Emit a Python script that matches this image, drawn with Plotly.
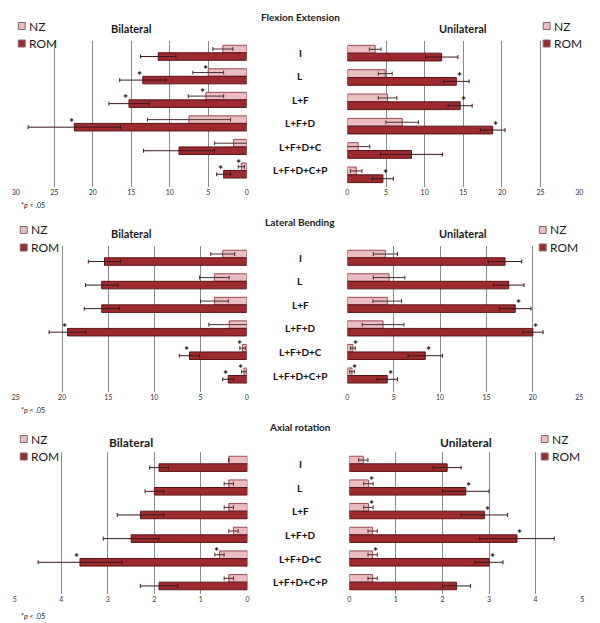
import plotly.graph_objects as go

categories = ["I", "L", "L+F", "L+F+D", "L+F+D+C", "L+F+D+C+P"]
series_names = ["NZ", "ROM"]

# Flexion Extension
fe_bi_nz = [3.1, 5.0, 5.3, 7.5, 1.7, 0.7]
fe_bi_nz_err = [1.3, 2.0, 2.3, 5.4, 2.5, 0.4]
fe_bi_rom = [11.5, 13.5, 15.3, 22.4, 8.8, 3.0]
fe_bi_rom_err = [2.3, 3.0, 2.6, 6.0, 4.6, 0.9]
fe_bi_nz_sig = [0, 1, 1, 0, 0, 1]
fe_bi_rom_sig = [0, 1, 1, 1, 0, 1]

fe_uni_nz = [3.6, 4.9, 5.2, 7.1, 1.4, 1.15]
fe_uni_nz_err = [0.75, 0.9, 1.2, 2.1, 1.5, 0.75]
fe_uni_rom = [12.2, 14.1, 14.6, 18.8, 8.3, 4.6]
fe_uni_rom_err = [2.1, 1.65, 1.55, 1.6, 4.0, 1.35]
fe_uni_nz_sig = [0, 0, 0, 0, 0, 0]
fe_uni_rom_sig = [0, 1, 1, 1, 0, 1]

# Lateral Bending
lb_bi_nz = [2.6, 3.5, 3.5, 1.9, 0.45, 0.3]
lb_bi_nz_err = [1.3, 1.6, 1.5, 2.2, 0.3, 0.25]
lb_bi_rom = [15.4, 15.7, 15.7, 19.4, 6.2, 2.0]
lb_bi_rom_err = [1.75, 1.75, 1.9, 2.0, 1.1, 0.6]
lb_bi_nz_sig = [0, 0, 0, 0, 1, 1]
lb_bi_rom_sig = [0, 0, 0, 1, 1, 1]

lb_uni_nz = [4.1, 4.5, 4.3, 3.85, 0.6, 0.5]
lb_uni_nz_err = [1.3, 1.7, 1.55, 2.25, 0.25, 0.25]
lb_uni_rom = [17.0, 17.4, 18.1, 20.0, 8.4, 4.3]
lb_uni_rom_err = [1.8, 1.65, 1.7, 1.1, 1.85, 1.1]
lb_uni_nz_sig = [0, 0, 0, 0, 1, 1]
lb_uni_rom_sig = [0, 0, 1, 1, 1, 1]

# Axial rotation
ar_bi_nz = [0.4, 0.4, 0.4, 0.3, 0.6, 0.4]
ar_bi_nz_err = [0.0, 0.1, 0.1, 0.1, 0.1, 0.1]
ar_bi_rom = [1.9, 2.0, 2.3, 2.5, 3.6, 1.9]
ar_bi_rom_err = [0.2, 0.2, 0.5, 0.6, 0.9, 0.4]
ar_bi_nz_sig = [0, 0, 0, 0, 1, 0]
ar_bi_rom_sig = [0, 0, 0, 0, 1, 0]

ar_uni_nz = [0.3, 0.41, 0.41, 0.5, 0.5, 0.5]
ar_uni_nz_err = [0.1, 0.1, 0.1, 0.1, 0.1, 0.1]
ar_uni_rom = [2.1, 2.5, 2.9, 3.6, 3.0, 2.3]
ar_uni_rom_err = [0.3, 0.5, 0.5, 0.8, 0.3, 0.3]
ar_uni_nz_sig = [0, 1, 1, 0, 1, 0]
ar_uni_rom_sig = [0, 1, 1, 1, 1, 0]

NZ_FILL = "#ebbcc0"
NZ_LINE = "#9a4a50"
ROM_FILL = "#9c2a2f"
ROM_LINE = "#5a1418"
FONT = "Lato"

W, H = 600, 623

def py(px):  # pixel row -> paper y
    return 1 - px / H

# layout of each of the three panels (pixel positions); lb/lu = legend swatch centre (x, y of first row)
panels = [
    dict(title="Flexion Extension", ty=17, sy=29, ssize=11, top=41, bot=187, xmax=30, dtick=5, pnote=205,
         lb=(18, 26), lu=(550, 26),
         bi=(fe_bi_nz, fe_bi_nz_err, fe_bi_rom, fe_bi_rom_err, fe_bi_nz_sig, fe_bi_rom_sig),
         uni=(fe_uni_nz, fe_uni_nz_err, fe_uni_rom, fe_uni_rom_err, fe_uni_nz_sig, fe_uni_rom_sig),
         bdom=[12 / W, 246 / W], udom=[348 / W, 583 / W]),
    dict(title="Lateral Bending", ty=222, sy=233, ssize=11, top=246, bot=392, xmax=25, dtick=5, pnote=410,
         lb=(20, 230), lu=(546, 230),
         bi=(lb_bi_nz, lb_bi_nz_err, lb_bi_rom, lb_bi_rom_err, lb_bi_nz_sig, lb_bi_rom_sig),
         uni=(lb_uni_nz, lb_uni_nz_err, lb_uni_rom, lb_uni_rom_err, lb_uni_nz_sig, lb_uni_rom_sig),
         bdom=[12 / W, 246 / W], udom=[348 / W, 583 / W]),
    dict(title="Axial rotation", ty=427, sy=442, ssize=12, top=452, bot=594, xmax=5, dtick=1, pnote=616,
         lb=(20, 439), lu=(548, 439),
         bi=(ar_bi_nz, ar_bi_nz_err, ar_bi_rom, ar_bi_rom_err, ar_bi_nz_sig, ar_bi_rom_sig),
         uni=(ar_uni_nz, ar_uni_nz_err, ar_uni_rom, ar_uni_rom_err, ar_uni_nz_sig, ar_uni_rom_sig),
         bdom=[11 / W, 246.7 / W], udom=[350 / W, 586 / W]),
]

fig = go.Figure()
layout = {}
annotations = []
shapes = []

def label(x, y, text, size, xanchor="center", **kw):
    # paper annotation with explicit anchors (auto anchors shift with position)
    d = dict(x=x, y=y, xref="paper", yref="paper", text=text, showarrow=False,
             xanchor=xanchor, yanchor="middle", font=dict(family=FONT, size=size, color="#1a1a1a"))
    d.update(kw)
    annotations.append(d)

idx = 0
for p in panels:
    for side, data, dom, lpos in (("Bilateral", p["bi"], p["bdom"], p["lb"]),
                                  ("Unilateral", p["uni"], p["udom"], p["lu"])):
        idx += 1
        sfx = "" if idx == 1 else str(idx)
        xa, ya = "x" + sfx, "y" + sfx
        nz, nz_err, rom, rom_err, nz_sig, rom_sig = data

        fig.add_trace(go.Bar(
            y=categories, x=nz, orientation="h", name="NZ", xaxis=xa, yaxis=ya, showlegend=False,
            marker=dict(color=NZ_FILL, line=dict(color=NZ_LINE, width=1)),
            error_x=dict(type="data", array=nz_err, color="#4a3030", thickness=1, width=2),
        ))
        fig.add_trace(go.Bar(
            y=categories, x=rom, orientation="h", name="ROM", xaxis=xa, yaxis=ya, showlegend=False,
            marker=dict(color=ROM_FILL, line=dict(color=ROM_LINE, width=1)),
            error_x=dict(type="data", array=rom_err, color="#3a1a1a", thickness=1, width=2),
        ))

        rng = [p["xmax"], 0] if side == "Bilateral" else [0, p["xmax"]]
        layout["xaxis" + sfx] = dict(
            domain=dom, anchor=ya, range=rng, dtick=p["dtick"], tick0=0,
            showgrid=True, gridcolor="#8a8a8a", gridwidth=1,
            zeroline=True, zerolinecolor="rgba(0,0,0,0)",
            showline=False, ticks="", fixedrange=True,
            tickfont=dict(family=FONT, size=7, color="#333333"),
        )
        layout["yaxis" + sfx] = dict(
            domain=[py(p["bot"]), py(p["top"])], anchor=xa, fixedrange=True,
            categoryorder="array", categoryarray=categories, autorange="reversed",
            showticklabels=False, showgrid=False, zeroline=False, showline=False, ticks="",
        )

        # small legend (swatch + label) for this subplot
        lx, ly = lpos
        for k, (nm, fill) in enumerate(zip(series_names, (NZ_FILL, ROM_FILL))):
            cy = ly + k * 17.5
            shapes.append(dict(type="rect", xref="paper", yref="paper",
                               x0=(lx - 3.5) / W, x1=(lx + 3.5) / W, y0=py(cy + 3.5), y1=py(cy - 3.5),
                               fillcolor=fill, line=dict(color="#7a6a6a", width=1)))
            label((lx + 5) / W, py(cy), nm, 12, xanchor="left")

        # subtitle
        label((dom[0] + dom[1]) / 2, py(p["sy"]), "<b>%s</b>" % side, p["ssize"])

        # significance stars
        sgn = -1 if side == "Bilateral" else 1
        for vals, sig, dy in ((nz, nz_sig, 7), (rom, rom_sig, 1)):
            for cat, v, s in zip(categories, vals, sig):
                if s:
                    annotations.append(dict(x=v, y=cat, xref=xa, yref=ya, text="<b>*</b>", showarrow=False,
                                            xanchor="center", yanchor="middle", xshift=sgn * 3, yshift=dy,
                                            font=dict(family=FONT, size=12, color="#111111")))

        if side == "Bilateral":
            # category labels in the middle
            for cat in categories:
                annotations.append(dict(x=0.5, y=cat, xref="paper", yref=ya, text="<b>%s</b>" % cat,
                                        showarrow=False, xanchor="center", yanchor="middle",
                                        font=dict(family=FONT, size=10, color="#111111")))

    label(0.5, py(p["ty"]), "<b>%s</b>" % p["title"], 10)
    label(0.025, py(p["pnote"]), "*<i>p</i> < .05", 7, xanchor="left")

fig.update_layout(
    width=W, height=H,
    margin=dict(l=0, r=0, t=0, b=0),
    paper_bgcolor="white", plot_bgcolor="white",
    barmode="group", bargap=0.36, bargroupgap=0,
    showlegend=False,
    annotations=annotations,
    shapes=shapes,
    **layout,
)

# drop the default page margin so the 600x623 figure fills the window exactly
fig.write_html("out.html", config={"displayModeBar": False},
               post_script="document.body.style.margin='0';")
